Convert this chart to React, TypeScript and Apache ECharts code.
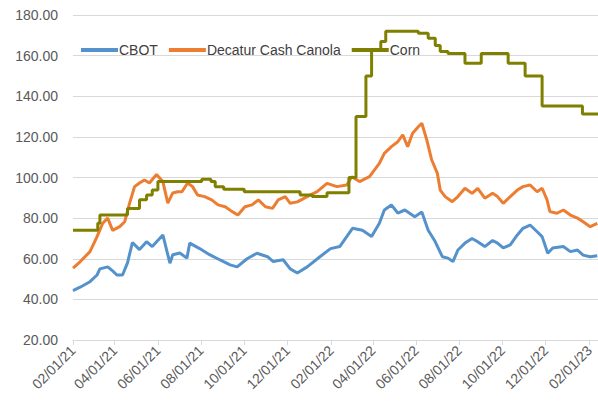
import React, { useEffect, useRef } from "react";
import * as echarts from "echarts";

const tickLabels = ["02/01/21", "04/01/21", "06/01/21", "08/01/21", "10/01/21", "12/01/21", "02/01/22", "04/01/22", "06/01/22", "08/01/22", "10/01/22", "12/01/22", "02/01/23"];

const cbotDates = ["2021-02-01", "2021-02-11", "2021-02-25", "2021-03-07", "2021-03-11", "2021-03-22", "2021-03-29", "2021-04-04", "2021-04-12", "2021-04-19", "2021-04-26", "2021-05-06", "2021-05-16", "2021-05-24", "2021-06-08", "2021-06-18", "2021-06-22", "2021-07-02", "2021-07-12", "2021-07-16", "2021-07-30", "2021-08-13", "2021-08-28", "2021-09-11", "2021-09-21", "2021-10-05", "2021-10-19", "2021-11-03", "2021-11-11", "2021-11-25", "2021-12-05", "2021-12-15", "2021-12-29", "2022-01-16", "2022-01-31", "2022-02-13", "2022-03-03", "2022-03-17", "2022-03-30", "2022-04-10", "2022-04-17", "2022-04-27", "2022-05-06", "2022-05-16", "2022-05-30", "2022-06-09", "2022-06-18", "2022-06-27", "2022-07-08", "2022-07-16", "2022-07-23", "2022-07-30", "2022-08-09", "2022-08-19", "2022-08-27", "2022-09-06", "2022-09-17", "2022-09-24", "2022-10-02", "2022-10-12", "2022-10-22", "2022-10-30", "2022-11-09", "2022-11-19", "2022-11-26", "2022-12-04", "2022-12-11", "2022-12-26", "2023-01-05", "2023-01-15", "2023-01-23", "2023-02-02", "2023-02-12"];
const cbotValues = [44.3, 46, 48.7, 52, 55, 56, 54, 52, 52, 58, 68, 64.5, 68.4, 66, 71.7, 57.8, 62, 62.8, 60.3, 67.7, 65, 62, 59.4, 57, 56, 60, 62.7, 61, 58.6, 59.5, 55, 53, 56, 61, 65, 66, 75, 74, 71, 77.5, 84, 86.5, 82.5, 84, 80.7, 83, 74, 69, 61, 60.3, 58.6, 64.3, 67.7, 70, 68.4, 66, 69, 67.7, 65.3, 66.8, 71.7, 75, 76.6, 73.3, 70.9, 62.7, 65.3, 66, 63.5, 64.3, 61.8, 61, 61.5];

const canolaDates = ["2021-02-01", "2021-02-11", "2021-02-25", "2021-03-07", "2021-03-15", "2021-03-22", "2021-03-29", "2021-04-08", "2021-04-15", "2021-04-22", "2021-04-29", "2021-05-06", "2021-05-13", "2021-05-20", "2021-05-30", "2021-06-08", "2021-06-15", "2021-06-22", "2021-06-29", "2021-07-05", "2021-07-13", "2021-07-20", "2021-07-27", "2021-08-06", "2021-08-16", "2021-08-25", "2021-09-04", "2021-09-14", "2021-09-22", "2021-10-02", "2021-10-12", "2021-10-21", "2021-10-31", "2021-11-10", "2021-11-18", "2021-11-28", "2021-12-05", "2021-12-15", "2021-12-29", "2022-01-12", "2022-01-26", "2022-02-09", "2022-02-23", "2022-03-02", "2022-03-13", "2022-03-27", "2022-04-10", "2022-04-17", "2022-04-27", "2022-05-06", "2022-05-13", "2022-05-20", "2022-05-27", "2022-06-04", "2022-06-09", "2022-06-16", "2022-06-23", "2022-07-01", "2022-07-05", "2022-07-12", "2022-07-22", "2022-07-30", "2022-08-09", "2022-08-19", "2022-08-27", "2022-09-06", "2022-09-17", "2022-09-24", "2022-10-02", "2022-10-12", "2022-10-22", "2022-10-30", "2022-11-09", "2022-11-19", "2022-11-26", "2022-12-03", "2022-12-07", "2022-12-17", "2022-12-26", "2023-01-05", "2023-01-15", "2023-01-23", "2023-02-02", "2023-02-12"];
const canolaValues = [55.4, 58.5, 63.5, 70.9, 77.5, 80, 74, 75.8, 78.2, 87.4, 95.5, 97.3, 98.8, 97.3, 101.5, 98, 87.4, 92.4, 93, 93, 97.3, 95.5, 91.4, 90.6, 89, 86.5, 85.6, 83.2, 81.5, 85.6, 86.5, 89, 85.6, 84.8, 89, 90.6, 87.3, 88, 90.6, 93, 97.1, 95.5, 96.3, 100.4, 98, 100.4, 107, 111.9, 115.2, 117.6, 121, 115.2, 121.8, 125, 126.7, 118.5, 108.6, 102, 93.8, 90.6, 88.1, 90.6, 94.7, 92.2, 94.7, 89.8, 92.2, 90.6, 87.3, 90.6, 93.8, 95.5, 96.3, 93, 94.7, 89, 83.2, 82.4, 84, 81.5, 80, 78.2, 75.8, 77.4];

const cornDates = ["2021-02-01", "2021-03-08", "2021-03-11", "2021-04-19", "2021-05-06", "2021-05-16", "2021-05-24", "2021-06-01", "2021-08-02", "2021-08-15", "2021-08-21", "2021-09-02", "2021-10-01", "2021-12-19", "2022-01-05", "2022-01-26", "2022-02-26", "2022-03-08", "2022-03-22", "2022-03-30", "2022-04-12", "2022-04-19", "2022-06-04", "2022-06-18", "2022-06-28", "2022-07-05", "2022-07-16", "2022-08-09", "2022-09-01", "2022-10-09", "2022-11-02", "2022-11-26", "2023-01-22", "2023-02-13"];
const cornValues = [74, 77.5, 81.5, 84.8, 89, 91.4, 93.8, 98, 99.1, 98, 95.5, 94.2, 93, 91.4, 90.6, 92.5, 100, 130, 150, 163, 167, 172, 171, 168.5, 165, 162, 161, 156.2, 161, 156.2, 150, 135.2, 131.3, 131.3];

const seriesNames = ["CBOT", "Decatur Cash Canola", "Corn"];
const seriesColors = ["#5592cc", "#ed7d31", "#808000"];

function parseTick(s: string): number {
  const [m, d, y] = s.split("/").map(Number);
  return Date.UTC(2000 + y, m - 1, d);
}
function parseIso(s: string): number {
  const [y, m, d] = s.split("-").map(Number);
  return Date.UTC(y, m - 1, d);
}
function pad(n: number) {
  return n < 10 ? "0" + n : "" + n;
}
function fmt(v: number): string {
  const d = new Date(v);
  return pad(d.getUTCMonth() + 1) + "/" + pad(d.getUTCDate()) + "/" + pad(d.getUTCFullYear() % 100);
}

export default function App() {
  const ref = useRef<HTMLDivElement>(null);
  useEffect(() => {
    if (!ref.current) return;
    const chart = echarts.init(ref.current, undefined, { renderer: "svg" });
    const ticks = tickLabels.map(parseTick);
    const font = "Liberation Sans";
    const zip = (ds: string[], vs: number[]) => ds.map((d, i) => [parseIso(d), vs[i]]);
    chart.setOption({
      animation: false,
      backgroundColor: "#ffffff",
      textStyle: { fontFamily: font },
      legend: {
        left: 76,
        top: 38,
        itemWidth: 37,
        itemHeight: 4,
        itemGap: 11,
        icon: "rect",
        textStyle: { fontFamily: font, fontSize: 14, color: "#404040", padding: [0, 0, 0, -4] },
        data: seriesNames,
      },
      grid: { left: 73, right: 0, top: 15, bottom: 66 },
      xAxis: {
        type: "value",
        min: Date.UTC(2021, 1, 1),
        max: Date.UTC(2023, 1, 13),
        splitLine: { show: false },
        axisLine: { show: true, lineStyle: { color: "#d9d9d9", width: 1 } },
        axisTick: { show: true, customValues: ticks, length: 5, lineStyle: { color: "#d9d9d9" } },
        axisLabel: {
          customValues: ticks,
          rotate: 45,
          fontSize: 14,
          color: "#595959",
          fontFamily: font,
          margin: 8,
          formatter: (v: number) => fmt(v),
          hideOverlap: false,
          showMinLabel: true,
          showMaxLabel: true,
        },
      },
      yAxis: {
        type: "value",
        min: 20,
        max: 180,
        interval: 20,
        axisLine: { show: false },
        axisTick: { show: false },
        splitLine: { lineStyle: { color: "#d9d9d9", width: 1 } },
        axisLabel: {
          fontSize: 14,
          color: "#595959",
          fontFamily: font,
          margin: 15,
          formatter: (v: number) => v.toFixed(2),
        },
      },
      series: [
        {
          name: seriesNames[0],
          type: "line",
          data: zip(cbotDates, cbotValues),
          showSymbol: false,
          symbol: "none",
          lineStyle: { width: 3, color: seriesColors[0] },
          itemStyle: { color: seriesColors[0] },
        },
        {
          name: seriesNames[1],
          type: "line",
          data: zip(canolaDates, canolaValues),
          showSymbol: false,
          symbol: "none",
          lineStyle: { width: 3, color: seriesColors[1] },
          itemStyle: { color: seriesColors[1] },
        },
        {
          name: seriesNames[2],
          type: "line",
          step: "end",
          data: zip(cornDates, cornValues),
          showSymbol: false,
          symbol: "none",
          lineStyle: { width: 3, color: seriesColors[2] },
          itemStyle: { color: seriesColors[2] },
        },
      ],
    });
    return () => chart.dispose();
  }, []);
  return (
    <div
      ref={ref}
      style={{ position: "fixed", left: 0, top: 0, width: 598, height: 406, background: "#fff" }}
    />
  );
}
